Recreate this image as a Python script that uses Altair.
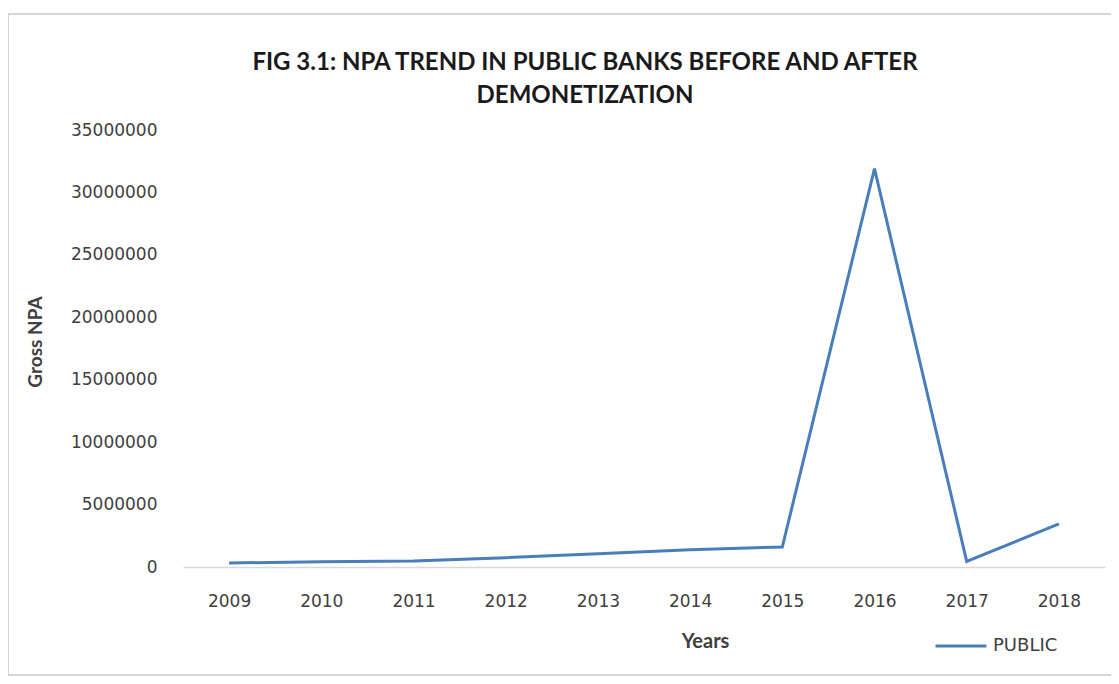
import altair as alt
import pandas as pd

years = ["2009", "2010", "2011", "2012", "2013", "2014", "2015", "2016", "2017", "2018"]
gross_npa = [320000, 430000, 480000, 750000, 1070000, 1390000, 1600000, 31900000, 450000, 3450000]
series = ["PUBLIC"] * len(years)
y_ticks = [0, 5000000, 10000000, 15000000, 20000000, 25000000, 30000000, 35000000]

df = pd.DataFrame({"Years": years, "Gross NPA": gross_npa, "series": series})

W, H = 922, 437
LINE_COLOR = "#4a7ebb"
TXT = "#404040"

frame = alt.Chart(alt.Data(values=[{"a": 1}])).mark_rect(
    fill="transparent", stroke="#d6d6d6", strokeWidth=2
).encode(
    x=alt.value(-175), x2=alt.value(960), y=alt.value(-116), y2=alt.value(545)
)

line = alt.Chart(df).mark_line(strokeWidth=3).encode(
    x=alt.X(
        "Years:O",
        sort=years,
        scale=alt.Scale(paddingOuter=0.44),
        axis=alt.Axis(
            labelAngle=0,
            labelFont="DejaVu Sans",
            labelFontSize=17,
            labelColor=TXT,
            labelPadding=26,
            ticks=False,
            grid=False,
            domainColor="#d9d9d9",
            domainWidth=1.5,
            title="Years",
            titleFont="Lato",
            titleFontSize=20,
            titleFontWeight="bold",
            titleColor=TXT,
            titleX=522,
            titleY=74,
            titleAlign="center",
            titleBaseline="middle",
        ),
    ),
    y=alt.Y(
        "Gross NPA:Q",
        scale=alt.Scale(domain=[0, 35000000], nice=False),
        axis=alt.Axis(
            values=y_ticks,
            format="d",
            labelFont="DejaVu Sans",
            labelFontSize=17,
            labelColor=TXT,
            labelPadding=26,
            ticks=False,
            grid=False,
            domain=False,
            title="Gross NPA",
            titleFont="Lato",
            titleFontSize=19,
            titleFontWeight="bold",
            titleColor=TXT,
            titleAngle=270,
            titleX=-148,
            titleY=H / 2 - 7,
            titleAlign="center",
            titleBaseline="middle",
        ),
    ),
    color=alt.Color(
        "series:N",
        title=None,
        scale=alt.Scale(domain=["PUBLIC"], range=[LINE_COLOR]),
        legend=alt.Legend(
            orient="none",
            legendX=751,
            legendY=489,
            symbolType="stroke",
            symbolSize=2601,
            symbolStrokeWidth=3,
            labelFont="DejaVu Sans",
            labelFontSize=18,
            labelColor=TXT,
            labelOffset=5,
            padding=0,
        ),
    ),
)

chart = alt.layer(frame, line).properties(
    width=W,
    height=H,
    autosize=alt.AutoSizeParams(type="none"),
    padding={"left": 175, "top": 122, "right": 6, "bottom": 109},
    title=alt.TitleParams(
        text=["FIG 3.1: NPA TREND IN PUBLIC BANKS BEFORE AND AFTER", "DEMONETIZATION"],
        font="Lato",
        fontSize=24,
        fontWeight="bold",
        color="#1a1a1a",
        lineHeight=33,
        anchor="middle",
        frame="group",
        dx=-59,
        dy=95,
        offset=0,
    ),
).configure_view(stroke=None)

chart.save("out.html", embed_options={"renderer": "svg", "actions": False})
